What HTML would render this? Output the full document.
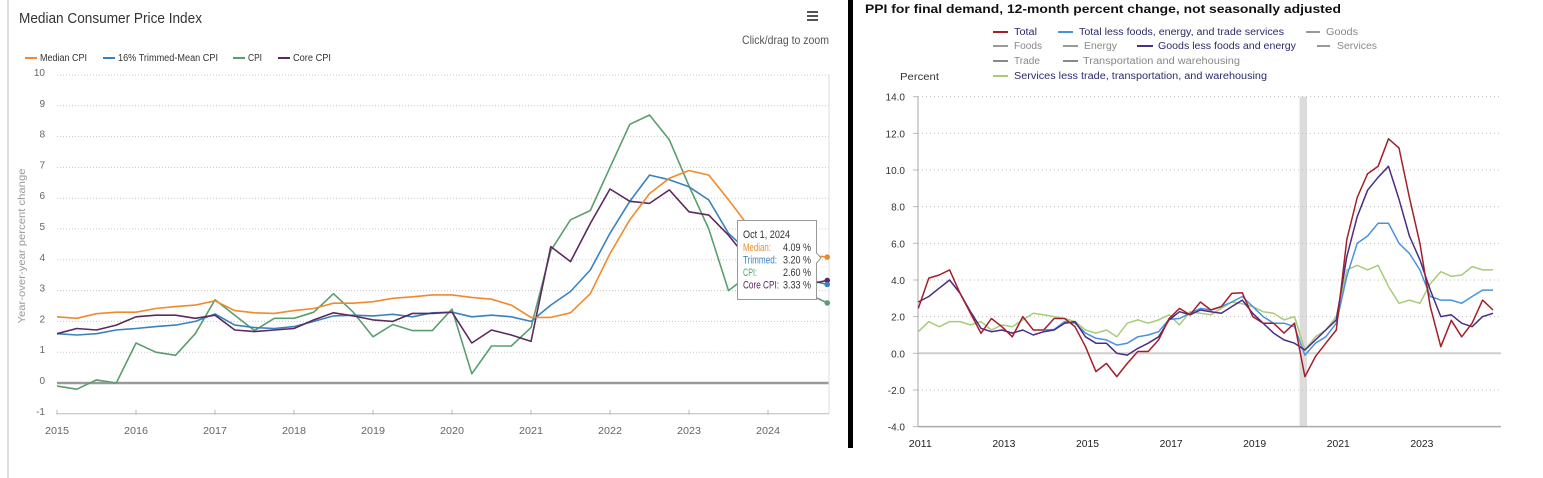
<!DOCTYPE html>
<html><head><meta charset="utf-8"><style>
html,body{margin:0;padding:0;background:#fff;width:1543px;height:478px;overflow:hidden}
svg{display:block;font-family:"Liberation Sans",sans-serif}
</style></head><body>
<svg id="s" width="1543" height="478" viewBox="0 0 1543 478">
<rect x="7" y="0" width="2" height="478" fill="#ddd"/>
<text x="19" y="23" font-size="15" fill="#333" textLength="183" lengthAdjust="spacingAndGlyphs">Median Consumer Price Index</text>
<g fill="#555"><rect x="807" y="11" width="11" height="2"/><rect x="807" y="15" width="11" height="2"/><rect x="807" y="19" width="11" height="2"/></g>
<text x="829" y="44" font-size="12" fill="#555" text-anchor="end" textLength="87" lengthAdjust="spacingAndGlyphs">Click/drag to zoom</text>
<g font-size="10" fill="#333">
<g><rect x="25" y="57" width="12" height="2" fill="#f08a2c"/><text x="40" y="61" textLength="47" lengthAdjust="spacingAndGlyphs">Median CPI</text></g>
<g><rect x="103" y="57" width="12" height="2" fill="#3a82bd"/><text x="118" y="61" textLength="100" lengthAdjust="spacingAndGlyphs">16% Trimmed-Mean CPI</text></g>
<g><rect x="233" y="57" width="12" height="2" fill="#5a9e6f"/><text x="248" y="61" textLength="14" lengthAdjust="spacingAndGlyphs">CPI</text></g>
<g><rect x="278" y="57" width="12" height="2" fill="#5b2a60"/><text x="293" y="61" textLength="38" lengthAdjust="spacingAndGlyphs">Core CPI</text></g>
</g>
<text transform="translate(25,246) rotate(-90)" font-size="10" fill="#999" text-anchor="middle" textLength="155" lengthAdjust="spacingAndGlyphs">Year-over-year percent change</text>
<g id="gL"></g>
<rect x="848" y="0" width="5" height="448" fill="#000"/>
<text x="865" y="13" font-size="12" font-weight="bold" fill="#111" textLength="476" lengthAdjust="spacingAndGlyphs">PPI for final demand, 12-month percent change, not seasonally adjusted</text>
<g font-size="10">
<g><rect x="993" y="31" width="15" height="2" fill="#a31f2b"/><text x="1014" y="35" fill="#2b2b6b" textLength="23" lengthAdjust="spacingAndGlyphs">Total</text></g>
<g><rect x="1058" y="31" width="15" height="2" fill="#4a92dd"/><text x="1079" y="35" fill="#2b2b6b" textLength="205" lengthAdjust="spacingAndGlyphs">Total less foods, energy, and trade services</text></g>
<g><rect x="1306" y="31" width="14" height="2" fill="#999"/><text x="1326" y="35" fill="#888" textLength="32" lengthAdjust="spacingAndGlyphs">Goods</text></g>
<g><rect x="993" y="45" width="15" height="2" fill="#999"/><text x="1014" y="49" fill="#888" textLength="28" lengthAdjust="spacingAndGlyphs">Foods</text></g>
<g><rect x="1063" y="45" width="15" height="2" fill="#999"/><text x="1084" y="49" fill="#888" textLength="33" lengthAdjust="spacingAndGlyphs">Energy</text></g>
<g><rect x="1137" y="45" width="16" height="2" fill="#4b2c86"/><text x="1158" y="49" fill="#2b2b6b" textLength="138" lengthAdjust="spacingAndGlyphs">Goods less foods and energy</text></g>
<g><rect x="1317" y="45" width="13" height="2" fill="#999"/><text x="1337" y="49" fill="#888" textLength="40" lengthAdjust="spacingAndGlyphs">Services</text></g>
<g><rect x="993" y="60" width="15" height="2" fill="#888"/><text x="1014" y="64" fill="#888" textLength="26" lengthAdjust="spacingAndGlyphs">Trade</text></g>
<g><rect x="1063" y="60" width="15" height="2" fill="#888"/><text x="1083" y="64" fill="#888" textLength="157" lengthAdjust="spacingAndGlyphs">Transportation and warehousing</text></g>
<g><rect x="993" y="75" width="15" height="2" fill="#a8cc7a"/><text x="1014" y="79" fill="#2b2b6b" textLength="253" lengthAdjust="spacingAndGlyphs">Services less trade, transportation, and warehousing</text></g>
</g>
<text x="900" y="80" font-size="10" fill="#333" textLength="39" lengthAdjust="spacingAndGlyphs">Percent</text>
<g id="gR"></g>
</svg>
<script>
// ---- Left chart data (quarterly, 2015Q1 .. 2024Q4 Oct) ----
const leftStart = 2015;
const leftYTicks = [-1,0,1,2,3,4,5,6,7,8,9,10];
const leftXTicks = [2015,2016,2017,2018,2019,2020,2021,2022,2023,2024];
const medianCpi = [2.15,2.1,2.25,2.3, 2.3,2.42,2.48,2.53, 2.67,2.35,2.28,2.26, 2.35,2.42,2.59,2.59, 2.64,2.75,2.8,2.86, 2.86,2.78,2.72,2.53, 2.13,2.13,2.28,2.9, 4.2,5.3,6.15,6.65, 6.9,6.75,5.95,5.1, 4.7,4.4,4.15,4.09];
const trimmedCpi = [1.6,1.56,1.6,1.72, 1.77,1.83,1.88,2.0, 2.24,1.88,1.8,1.77, 1.83,2.0,2.18,2.2, 2.18,2.23,2.15,2.28, 2.3,2.15,2.2,2.15, 2.0,2.53,2.97,3.67, 4.86,5.9,6.75,6.6, 6.37,5.94,4.86,4.26, 3.8,3.55,3.35,3.2];
const cpi = [-0.1,-0.2,0.1,0.0, 1.3,1.0,0.9,1.6, 2.7,2.2,1.7,2.1, 2.1,2.3,2.9,2.3, 1.5,1.9,1.7,1.7, 2.4,0.3,1.2,1.2, 1.8,4.3,5.3,5.6, 7.0,8.4,8.7,7.9, 6.4,5.0,3.0,3.5, 3.1,3.4,2.9,2.6];
const coreCpi = [1.6,1.77,1.72,1.88, 2.15,2.2,2.2,2.1, 2.2,1.72,1.67,1.72, 1.77,2.05,2.28,2.18, 2.05,2.0,2.26,2.26, 2.3,1.3,1.72,1.56, 1.35,4.43,3.94,5.18, 6.3,5.9,5.83,6.27, 5.56,5.45,4.8,4.0, 3.9,3.6,3.2,3.33];
const tooltipLabels = ["Median:","Trimmed:","CPI:","Core CPI:"];
const tooltipValues = ["4.09 %","3.20 %","2.60 %","3.33 %"];

// ---- Right chart data (quarterly, 2011Q1 .. 2024Q4) ----
const rightStart = 2011;
const rightYTicks = [-4,-2,0,2,4,6,8,10,12,14];
const rightXTicks = [2011,2013,2015,2017,2019,2021,2023];
const ppiTotal = [2.45,4.1,4.27,4.55, 3.27,2.18,1.09,1.9, 1.45,0.9,2.0,1.27, 1.27,1.9,1.9,1.45, 0.36,-1.0,-0.55,-1.27, -0.55,0.1,0.1,0.73, 1.9,2.45,2.1,2.8, 2.36,2.55,3.27,3.3, 2.0,1.64,1.64,1.1, 1.64,-1.27,-0.18,0.55, 1.27,6.2,8.5,9.8, 10.2,11.7,11.2,8.5, 6.0,2.55,0.36,1.8, 0.9,1.64,2.9,2.36];
const ppiCoreLessTrade = [null,null,null,null, null,null,null,null, null,null,null,null, 1.27,1.3,1.73,1.64, 1.1,0.82,0.73,0.45, 0.55,0.9,1.0,1.18, 1.85,1.9,2.18,2.45, 2.36,2.55,2.8,3.1, 2.55,2.0,1.64,1.64, 1.45,-0.1,0.55,0.9, 1.64,4.2,6.0,6.4, 7.1,7.1,6.0,5.45, 4.55,3.1,2.9,2.9, 2.73,3.1,3.45,3.45];
const ppiGoodsCore = [2.8,3.1,3.55,4.0, 3.27,2.27,1.36,1.18, 1.27,1.1,1.27,1.0, 1.18,1.27,1.64,1.73, 0.9,0.55,0.55,0.0, -0.1,0.27,0.55,0.9, 1.82,2.27,2.1,2.36, 2.27,2.18,2.55,2.9, 2.18,1.64,1.1,0.73, 0.55,0.18,0.73,1.27, 1.82,5.27,7.45,8.9, 9.6,10.2,8.4,6.4, 5.1,3.45,2.0,2.1, 1.64,1.45,2.0,2.18];
const ppiServicesLessTrade = [1.18,1.73,1.45,1.73, 1.73,1.55,1.73,1.27, 1.55,1.45,1.82,2.18, 2.1,2.0,1.9,1.73, 1.27,1.1,1.27,0.9, 1.64,1.82,1.64,1.82, 2.1,1.55,2.27,2.18, 2.1,2.45,2.8,2.7, 2.55,2.27,2.18,1.82, 2.0,0.18,0.9,1.27, 2.0,4.55,4.8,4.55, 4.8,3.64,2.73,2.9, 2.73,3.8,4.45,4.2, 4.27,4.73,4.55,4.55];
const recession = [2020.12, 2020.3];

const NS = "http://www.w3.org/2000/svg";
function mk(tag, parent, attrs){
  const e = document.createElementNS(NS, tag);
  for (const k in attrs) e.setAttribute(k, attrs[k]);
  parent.appendChild(e);
  return e;
}
function lineThrough(g, vals, start, xs, ys, color, w, name){
  let d = "";
  let pen = false;
  vals.forEach((v,i)=>{
    if (v === null) { pen = false; return; }
    const t = start + i/4;
    d += (pen ? "L" : "M") + xs(t).toFixed(1) + "," + ys(v).toFixed(1);
    pen = true;
  });
  const p = mk("path", g, {d:d, fill:"none", stroke:color, "stroke-width":w, "stroke-linejoin":"round"});
  
  
  return p;
}

// ---- Left chart ----
const gL = document.getElementById("gL");
const xL = t => 57 + 79*(t - 2015);
const yL = v => 383 - 30.8*v;
const L0 = 57, L1 = 829;
leftYTicks.forEach(v=>{
  if (v !== 0 && v !== -1) {
    const gl = mk("line", gL, {x1:L0, x2:L1, y1:yL(v), y2:yL(v), stroke:"#c8c8c8", "stroke-dasharray":"1,2"});
    
    
  }
  const tl = mk("text", gL, {x:45, y:yL(v)+1, "font-size":10, fill:"#666", "text-anchor":"end"});
  tl.textContent = String(v);
  
  
});
const zl = mk("line", gL, {x1:L0, x2:L1, y1:yL(0), y2:yL(0), stroke:"#999", "stroke-width":2.5});


const rb = mk("line", gL, {x1:L1, x2:L1, y1:yL(10), y2:yL(-1), stroke:"#ddd"});


const xa = mk("line", gL, {x1:L0, x2:L1, y1:yL(-1), y2:yL(-1), stroke:"#bbb"});


leftXTicks.forEach(t=>{
  const tk = mk("line", gL, {x1:xL(t), x2:xL(t), y1:yL(-1)-4, y2:yL(-1)+1, stroke:"#bbb"});
  
  
  const tl = mk("text", gL, {x:xL(t), y:434, "font-size":10, fill:"#666", "text-anchor":"middle", textLength:24, lengthAdjust:"spacingAndGlyphs"});
  tl.textContent = String(t);
  
  
});
lineThrough(gL, cpi, leftStart, xL, yL, "#5a9e6f", 1.6, "cpi-line");
lineThrough(gL, trimmedCpi, leftStart, xL, yL, "#3a82bd", 1.6, "trimmed-mean-cpi-line");
lineThrough(gL, coreCpi, leftStart, xL, yL, "#5b2a60", 1.6, "core-cpi-line");
lineThrough(gL, medianCpi, leftStart, xL, yL, "#f08a2c", 1.6, "median-cpi-line");
const lastT = leftStart + (medianCpi.length-1)/4;
[[medianCpi,"#f08a2c","median-end-marker"],[coreCpi,"#5b2a60","core-cpi-end-marker"],[trimmedCpi,"#3a82bd","trimmed-end-marker"],[cpi,"#5a9e6f","cpi-end-marker"]].forEach(a=>{
  const c = mk("circle", gL, {cx:xL(lastT), cy:yL(a[0][a[0].length-1]), r:2.8, fill:a[1]});
  
  
});
// tooltip
const tip = mk("g", gL, {});


const tipShape = mk("path", tip, {d:"M737.5,220.5 H816.5 V253 L821,258 L816.5,263 V299.5 H737.5 Z", fill:"#fff", stroke:"#999", "stroke-width":1});


const tipDate = mk("text", tip, {x:743, y:238, "font-size":11, fill:"#333", textLength:47, lengthAdjust:"spacingAndGlyphs"});
tipDate.textContent = "Oct 1, 2024";


const tipColors = ["#f08a2c","#3a82bd","#5a9e6f","#5b2a60"];
const tipLabW = [28,34,14,36];
tooltipLabels.forEach((lab,i)=>{
  const y = 251 + i*12.5;
  const a = mk("text", tip, {x:743, y:y, "font-size":11, fill:tipColors[i], textLength:tipLabW[i], lengthAdjust:"spacingAndGlyphs"});
  a.textContent = lab;
  
  
  const b = mk("text", tip, {x:811, y:y, "font-size":11, fill:"#333", "text-anchor":"end", textLength:28, lengthAdjust:"spacingAndGlyphs"});
  b.textContent = tooltipValues[i];
  
  
});

// ---- Right chart ----
const gR = document.getElementById("gR");
const xR = t => 918.3 + 41.8*(t - 2011);
const yR = v => 353.3 - 18.33*v;
const R0 = 918, R1 = 1501;
const band = mk("rect", gR, {x:xR(recession[0]), y:yR(14), width:xR(recession[1])-xR(recession[0]), height:yR(-4)-yR(14), fill:"#dcdcdc"});


rightYTicks.forEach(v=>{
  if (v !== 0 && v !== -4) {
    const gl = mk("line", gR, {x1:R0, x2:R1, y1:yR(v), y2:yR(v), stroke:"#bdbdbd", "stroke-dasharray":"1,3"});
    
    
  }
  const tk = mk("line", gR, {x1:R0-5, x2:R0, y1:yR(v), y2:yR(v), stroke:"#bbb"});
  
  
  const tl = mk("text", gR, {x:905, y:yR(v)+4, "font-size":10, fill:"#333", "text-anchor":"end"});
  tl.textContent = v.toFixed(1);
  
  
});
const zr = mk("line", gR, {x1:R0, x2:R1, y1:yR(0), y2:yR(0), stroke:"#cfcfcf", "stroke-width":2});


const ya = mk("line", gR, {x1:R0, x2:R0, y1:yR(14), y2:yR(-4), stroke:"#aaa"});


const xar = mk("line", gR, {x1:R0, x2:R1, y1:yR(-4), y2:yR(-4), stroke:"#aaa", "stroke-width":1.5});


rightXTicks.forEach(t=>{
  const tl = mk("text", gR, {x:xR(t)+2, y:447, "font-size":10, fill:"#222", "text-anchor":"middle", textLength:23, lengthAdjust:"spacingAndGlyphs"});
  tl.textContent = String(t);
  
  
});
lineThrough(gR, ppiServicesLessTrade, rightStart, xR, yR, "#a8cc7a", 1.5, "services-less-trade-line");
lineThrough(gR, ppiCoreLessTrade, rightStart, xR, yR, "#4a92dd", 1.5, "total-less-foods-energy-trade-line");
lineThrough(gR, ppiGoodsCore, rightStart, xR, yR, "#4b2c86", 1.5, "goods-less-foods-energy-line");
lineThrough(gR, ppiTotal, rightStart, xR, yR, "#a31f2b", 1.5, "total-line");
</script>
</body></html>
